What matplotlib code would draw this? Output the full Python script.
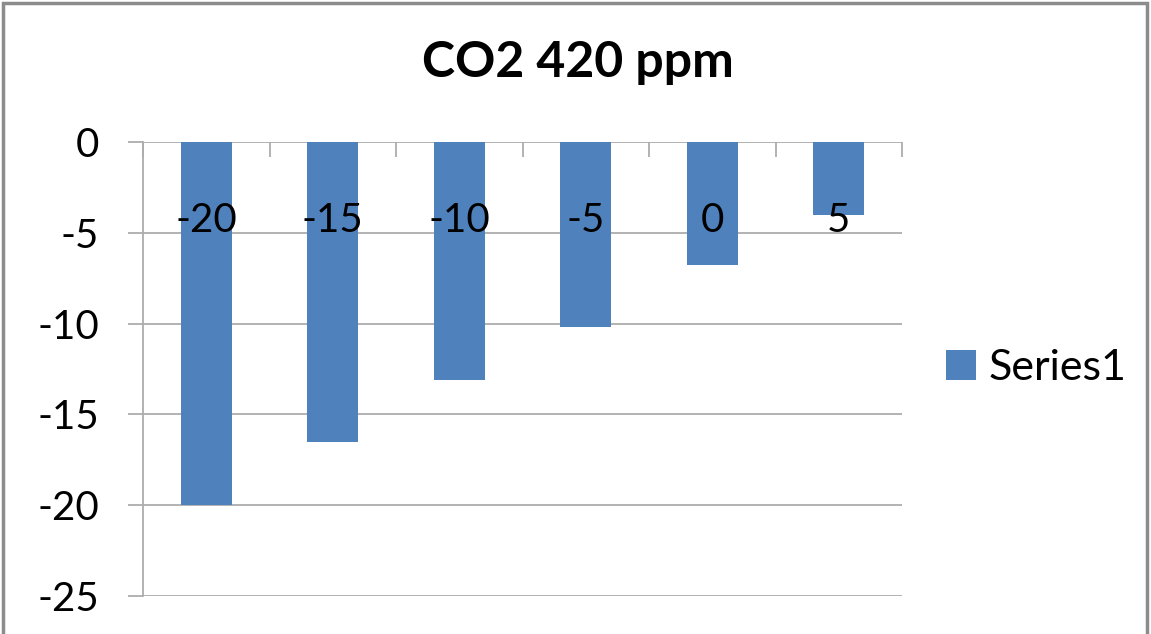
#!/usr/bin/env python3
"""Bar chart: CO2 420 ppm, Excel-style with negative bars hanging from zero."""

import numpy as np
import matplotlib.pyplot as plt
from matplotlib.patches import Rectangle, Patch

plt.rcParams['font.family'] = ['Lato', 'DejaVu Sans']

categories = ["-20", "-15", "-10", "-5", "0", "5"]
values = [-20.0, -16.5, -13.1, -10.2, -6.8, -4.0]
y_ticks = [0, -5, -10, -15, -20, -25]
series_name = "Series1"
title = "CO2 420 ppm"

BAR_COLOR = "#4F81BD"
GRID_COLOR = "#ADADAD"


def main() -> None:
    fig = plt.figure(figsize=(11.51, 6.34), dpi=100)
    ax = fig.add_axes([143 / 1151, 1 - 596 / 634, (902 - 143) / 1151, (596 - 142) / 634])

    x = np.arange(len(categories))
    ax.bar(x, values, width=0.4, color=BAR_COLOR, zorder=2)

    ax.set_xlim(-0.5, len(categories) - 0.5)
    ax.set_ylim(-25, 0)

    # gridlines + y axis
    ax.set_yticks(y_ticks)
    ax.set_yticklabels([str(v) for v in y_ticks])
    ax.yaxis.grid(True, color=GRID_COLOR, linewidth=1.3)
    ax.set_axisbelow(True)
    ax.xaxis.set_zorder(3)  # category labels sit on top of the bars
    ax.tick_params(axis="y", length=10.5, width=1.3, color=GRID_COLOR,
                   labelsize=29, pad=21)

    # category axis sits on the zero line, ticks between categories
    ax.spines["bottom"].set_position(("data", 0))
    ax.spines["bottom"].set_visible(False)
    ax.spines["top"].set_visible(False)
    ax.spines["right"].set_visible(False)
    ax.spines["left"].set_color(GRID_COLOR)
    ax.spines["left"].set_linewidth(1.3)
    ax.set_xticks(np.arange(len(categories) + 1) - 0.5)
    ax.set_xticklabels([])
    ax.tick_params(axis="x", which="major", direction="out", length=10.5,
                   width=1.3, color=GRID_COLOR)
    ax.set_xticks(x, minor=True)
    ax.set_xticklabels(categories, minor=True)
    ax.tick_params(axis="x", which="minor", length=0, labelsize=29, pad=43)

    fig.suptitle(title, x=578 / 1151, y=1 - 40 / 634, va="top",
                 fontsize=36, fontweight="bold")

    handle = Patch(facecolor=BAR_COLOR, edgecolor="none")
    fig.legend([handle], [series_name], loc="center left",
               bbox_to_anchor=(946 / 1151, 1 - 368 / 634), frameon=False,
               fontsize=31, handlelength=0.7, handleheight=0.7,
               handletextpad=0.3, borderpad=0, borderaxespad=0)

    # outer chart border
    fig.patches.append(Rectangle((3 / 1151, -0.01), 1 - 7 / 1151, 1.01 - 3 / 634,
                                 transform=fig.transFigure, fill=False,
                                 edgecolor="#8C8C8C", linewidth=2.5))

    fig.savefig("out.png", dpi=100, facecolor="white")


if __name__ == "__main__":
    main()
